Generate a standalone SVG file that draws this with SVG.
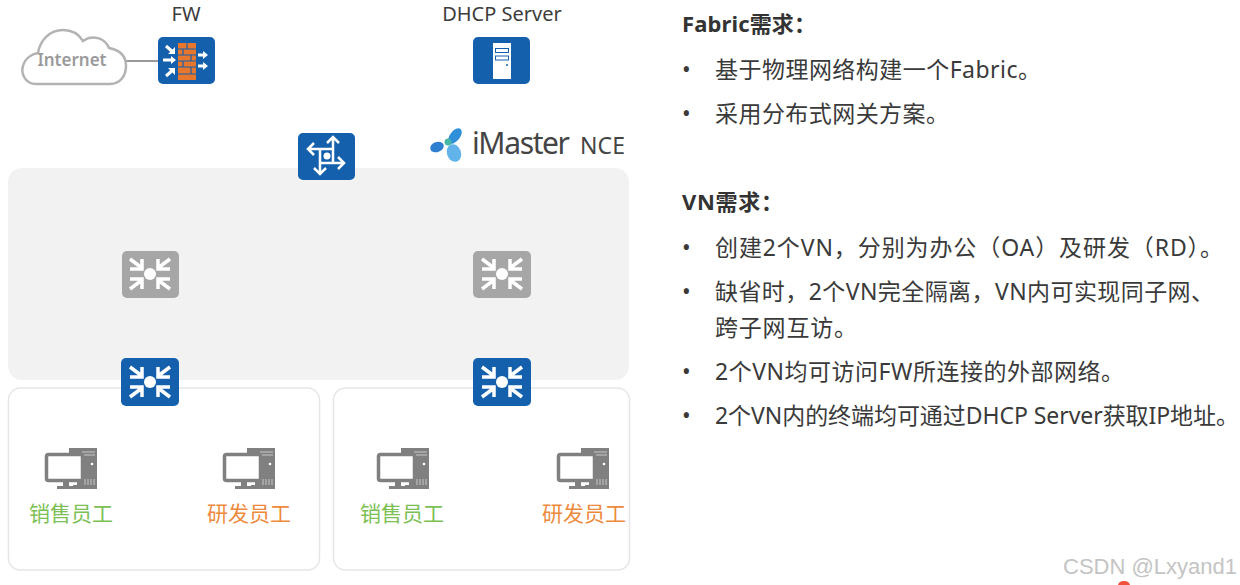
<svg xmlns="http://www.w3.org/2000/svg" xmlns:xlink="http://www.w3.org/1999/xlink" width="1240" height="585" viewBox="0 0 1240 585">
<style>
text{font-family:"Noto Sans","Noto Sans CJK SC",sans-serif}
.h{font-size:22px;font-weight:700;fill:#333}
.b{font-size:23px;fill:#3a3a3a}
.l{font-size:20px;fill:#3d3d3d}
.g{font-size:21px;fill:#7cbf55}
.o{font-size:21px;fill:#ee8a3c}
.box{fill:#fff;stroke:#e6e6e6;stroke-width:1.5}
.ar{fill:none;stroke:#fff;stroke-width:3.5}
.rt{fill:none;stroke:#fff;stroke-width:2.5}
</style>
<defs>
<g id="sw">
<path class="ar" d="M-20-15L-8-6M-8-15V-5H-20M20-15L8-6M8-15V-5H20M-20 15L-8 6M-8 15V5H-20M20 15L8 6M8 15V5H20"/>
<circle r="6" fill="#fff"/>
</g>
<g id="pc">
<path d="M-2-13H26V28H2V24H6V-6H-2Z" fill="#808080"/>
<path d="M11-9H24M11-6H24" stroke="#c8c8c8"/>
<circle cx="21" cy="3" r="1.300" fill="#fff"/>
<path d="M14 18v6M17 18v6M20 18v6M23 18v6" stroke="#c8c8c8"/>
<rect x="-24.500" y="-6.500" width="36" height="26" rx="2" fill="#fff" stroke="#808080" stroke-width="3.500"/>
<path d="M-8 21h6v4h8v3h-20v-3h6z" fill="#808080"/>
</g>
</defs>
<rect width="1240" height="585" fill="#fff"/>
<rect id="fabric" x="8" y="168" width="621" height="212" rx="14" fill="#f2f2f2"/>
<g id="site-left"><rect class="box" x="8.500" y="388" width="311" height="182" rx="12"/></g>
<g id="site-right"><rect class="box" x="333.500" y="388" width="296" height="182" rx="12"/></g>
<g id="connectors"><path d="M126 61H158" stroke="#777" stroke-width="1.500" fill="none"/></g>
<g id="internet">
<path d="M36 84C24 84 21 72 23 66C25 58 32 54 38 53C40 40 50 30 63 30C74 30 80 36 83 41C92 34 105 38 109 48C120 50 126 56 126 66C126 76 120 84 110 84Z" fill="#fff" stroke="#b3b3b3" stroke-width="2.500"/>
<text x="72" y="66" text-anchor="middle" font-size="17" font-weight="600" fill="#9a9a9a">Internet</text>
</g>
<g id="fw">
<text class="l" x="186" y="21" text-anchor="middle">FW</text>
<rect x="158" y="37" width="57" height="47" rx="5" fill="#1560ad"/>
<path d="M178 43h18v37h-18z" fill="#e8772e"/>
<path d="M178 49h18M178 55h18M178 61h18M178 67h18M178 74h18M187 43v6M183 49v6M191 55v6M183 61v6M191 67v7" stroke="#1560ad" stroke-width="1.200"/>
<path d="M166 46L174 53M163 60H173M166 76L174 69M198 55H206M198 66H206" stroke="#fff" stroke-width="3"/>
<path d="M175 54v-7l-7 7zM176 60l-5-4v8zM175 68v7l-7-7zM208 55l-5-4v8zM208 66l-5-4v8z" fill="#fff"/>
</g>
<g id="dhcp">
<text class="l" x="502" y="21" text-anchor="middle">DHCP Server</text>
<rect x="473" y="37" width="57" height="47" rx="5" fill="#1560ad"/>
<rect x="493" y="43" width="18" height="36" fill="#fff"/>
<rect x="495.500" y="48.500" width="13" height="4" fill="none" stroke="#1560ad"/>
<rect x="495.500" y="56" width="13" height="4" fill="none" stroke="#1560ad"/>
<circle cx="507" cy="65" r="1" fill="#1560ad"/>
</g>
<g id="router">
<rect x="298" y="133" width="57" height="47" rx="5" fill="#1560ad"/>
<path class="rt" d="M333 138V163M308 149H333M320 149V174M320 163H344M327 143l6-6 6 6M314 143l-6 6 6 6M314 168l6 6 6-6M338 157l6 6-6 6"/>
<circle cx="327" cy="156" r="3.500" fill="#fff"/>
</g>
<g id="nce">
<ellipse cx="455" cy="136" rx="5" ry="9" transform="rotate(38 455 136)" fill="#2f8fd8"/>
<ellipse cx="437" cy="147" rx="7" ry="5" transform="rotate(-20 437 147)" fill="#2f7fd0"/>
<ellipse cx="454" cy="153" rx="7" ry="9" transform="rotate(-20 454 153)" fill="#62b3ea"/>
<circle cx="448" cy="142" r="3.500" fill="#45b7a5"/>
<text x="472" y="154" font-size="30" fill="#444" textLength="98">iMaster</text>
<text x="580" y="154" font-size="23" fill="#444" textLength="45">NCE</text>
</g>
<g id="spine-left"><rect x="122" y="251" width="57" height="47" rx="5" fill="#a6a6a6"/><use xlink:href="#sw" href="#sw" x="150" y="274"/></g>
<g id="spine-right"><rect x="473" y="251" width="58" height="47" rx="5" fill="#a6a6a6"/><use xlink:href="#sw" href="#sw" x="502" y="274"/></g>
<g id="leaf-left"><rect x="121" y="358" width="58" height="48" rx="5" fill="#1560ad"/><use xlink:href="#sw" href="#sw" x="150" y="382"/></g>
<g id="leaf-right"><rect x="473" y="358" width="58" height="48" rx="5" fill="#1560ad"/><use xlink:href="#sw" href="#sw" x="502" y="382"/></g>
<g id="pc1"><use xlink:href="#pc" href="#pc" x="71" y="461"/><text class="g" x="71" y="521" text-anchor="middle">销售员工</text></g>
<g id="pc2"><use xlink:href="#pc" href="#pc" x="249" y="461"/><text class="o" x="249" y="521" text-anchor="middle">研发员工</text></g>
<g id="pc3"><use xlink:href="#pc" href="#pc" x="403" y="461"/><text class="g" x="402" y="521" text-anchor="middle">销售员工</text></g>
<g id="pc4"><use xlink:href="#pc" href="#pc" x="583" y="461"/><text class="o" x="584" y="521" text-anchor="middle">研发员工</text></g>
<g id="notes">
<text class="h" x="682" y="32" textLength="134">Fabric需求：</text>
<text class="b" x="682" y="78">•</text><text class="b" x="715" y="78" textLength="326">基于物理网络构建一个Fabric。</text>
<text class="b" x="682" y="122">•</text><text class="b" x="715" y="122" textLength="234">采用分布式网关方案。</text>
<text class="h" x="682" y="210" textLength="101">VN需求：</text>
<text class="b" x="682" y="256">•</text><text class="b" x="715" y="256" textLength="508">创建2个VN，分别为办公（OA）及研发（RD）。</text>
<text class="b" x="682" y="300">•</text><text class="b" x="715" y="300" textLength="499">缺省时，2个VN完全隔离，VN内可实现同子网、</text>
<text class="b" x="715" y="336" textLength="142">跨子网互访。</text>
<text class="b" x="682" y="380">•</text><text class="b" x="715" y="380" textLength="409">2个VN均可访问FW所连接的外部网络。</text>
<text class="b" x="682" y="424">•</text><text class="b" x="715" y="424" textLength="524">2个VN内的终端均可通过DHCP Server获取IP地址。</text>
</g>
<text x="1237" y="574" text-anchor="end" font-size="22" fill="#c4c4c4" style="font-family:'Liberation Sans',sans-serif">CSDN @Lxyand1</text>
<path d="M1118 585a6 5 0 0 1 6-4a6 5 0 0 1 6 4z" fill="#f0503c"/>
</svg>
